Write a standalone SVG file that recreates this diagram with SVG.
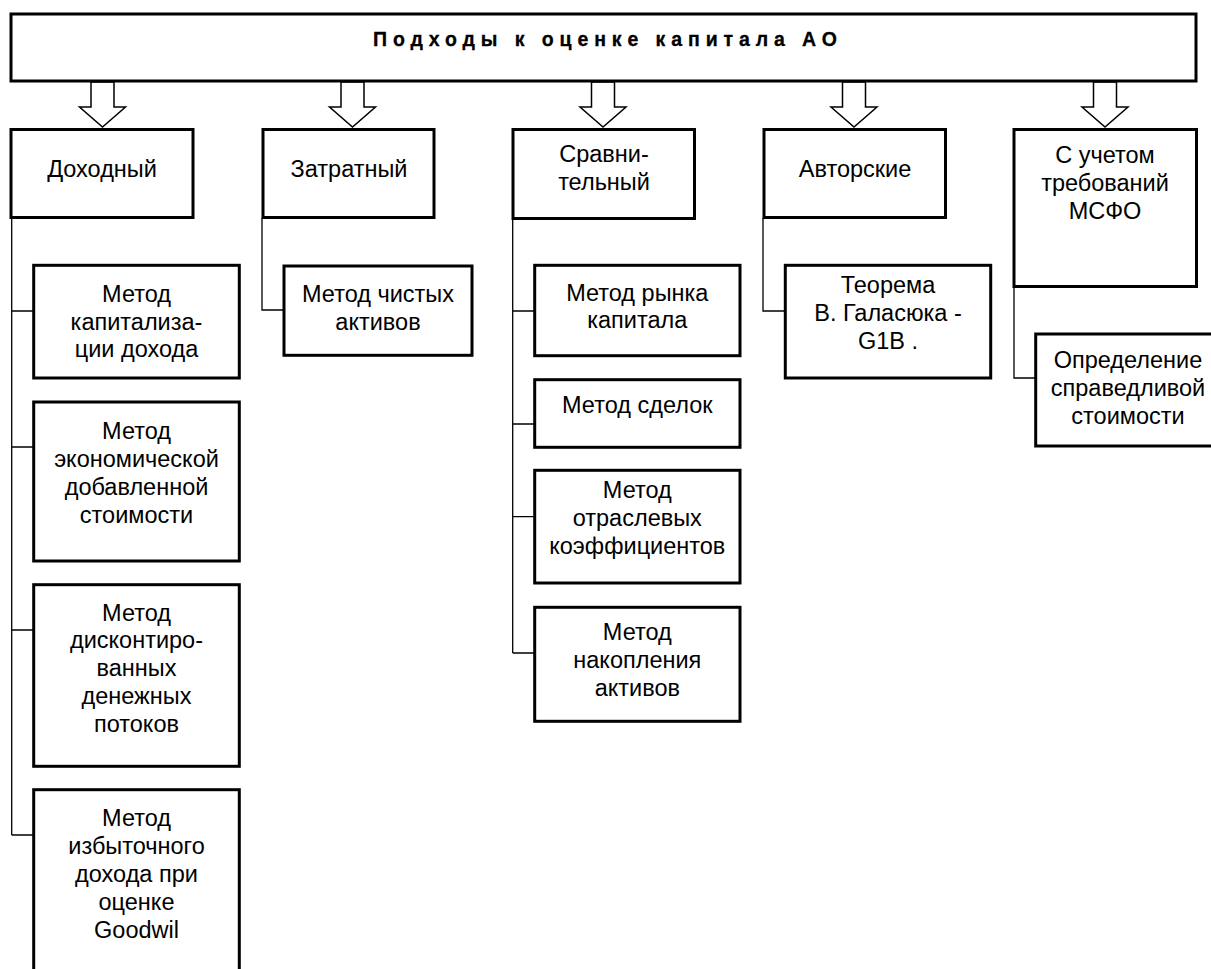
<svg xmlns="http://www.w3.org/2000/svg" width="1211" height="969" viewBox="0 0 1211 969">
<style>
.box{fill:#fff;stroke:#000;stroke-width:3}
.arr{fill:#fff;stroke:#000;stroke-width:1.5;stroke-linejoin:miter}
.ln{fill:none;stroke:#000;stroke-width:1.3}
.t{font-family:"Liberation Sans",Arial,sans-serif;font-size:23.5px;fill:#000;text-anchor:middle}
.title{font-family:"Liberation Sans",Arial,sans-serif;font-size:19.5px;font-weight:bold;fill:#000;stroke:#000;stroke-width:0.3}
</style>
<rect width="1211" height="969" fill="#fff"/>
<g id="connectors">
<polygon class="arr" points="91,82 114,82 114,107 125.5,107 102.5,127 79.5,107 91,107"/>
<polygon class="arr" points="341,82 364,82 364,107 375.5,107 352.5,127 329.5,107 341,107"/>
<polygon class="arr" points="591.5,82 614.5,82 614.5,107 626,107 603,127 580,107 591.5,107"/>
<polygon class="arr" points="842.5,82 865.5,82 865.5,107 877,107 854,127 831,107 842.5,107"/>
<polygon class="arr" points="1093.5,82 1116.5,82 1116.5,107 1128,107 1105,127 1082,107 1093.5,107"/>
<path class="ln" d="M11.7,218 V835 M11.7,311 H33 M11.7,447 H33 M11.7,630 H33 M11.7,835 H33"/>
<path class="ln" d="M262,218 V310 H283"/>
<path class="ln" d="M512.7,220 V653 M512.7,311 H534 M512.7,424 H534 M512.7,516.7 H534 M512.7,653 H534"/>
<path class="ln" d="M763,218 V311 H785"/>
<path class="ln" d="M1014,287 V378 H1035"/>
</g>
<g id="root">
<rect class="box" x="11" y="14" width="1185" height="67"/>
<text class="title" x="373" y="46" textLength="464" lengthAdjust="spacing">Подходы к оценке капитала АО</text>
</g>
<g id="dokhodny">
<rect class="box" x="11" y="129.5" width="182" height="88"/>
<text class="t" x="102" y="176.7">Доходный</text>
</g>
<g id="zatratny">
<rect class="box" x="263" y="129.5" width="171" height="88"/>
<text class="t" x="349" y="176.7">Затратный</text>
</g>
<g id="sravnitelny">
<rect class="box" x="513" y="129.5" width="181.5" height="89"/>
<text class="t" x="604" y="162.3">Сравни-</text>
<text class="t" x="604" y="190">тельный</text>
</g>
<g id="avtorskie">
<rect class="box" x="764" y="129.5" width="181.5" height="88"/>
<text class="t" x="855" y="176.7">Авторские</text>
</g>
<g id="msfo">
<rect class="box" x="1014" y="129.5" width="182.5" height="157"/>
<text class="t" x="1105" y="163.3">С учетом</text>
<text class="t" x="1105" y="191">требований</text>
<text class="t" x="1105" y="218.5">МСФО</text>
</g>
<g id="d1">
<rect class="box" x="33.7" y="265.3" width="205.6" height="112.7"/>
<text class="t" x="136.5" y="302">Метод</text>
<text class="t" x="136.5" y="329.7">капитализа-</text>
<text class="t" x="136.5" y="357">ции дохода</text>
</g>
<g id="d2">
<rect class="box" x="33.7" y="402" width="205.6" height="159"/>
<text class="t" x="136.5" y="439">Метод</text>
<text class="t" x="136.5" y="467">экономической</text>
<text class="t" x="136.5" y="495">добавленной</text>
<text class="t" x="136.5" y="523">стоимости</text>
</g>
<g id="d3">
<rect class="box" x="33.7" y="584.7" width="205.6" height="181.6"/>
<text class="t" x="136.5" y="620.7">Метод</text>
<text class="t" x="136.5" y="648.4">дисконтиро-</text>
<text class="t" x="136.5" y="676.1">ванных</text>
<text class="t" x="136.5" y="703.8">денежных</text>
<text class="t" x="136.5" y="731.5">потоков</text>
</g>
<g id="d4">
<rect class="box" x="33.7" y="789.7" width="205.6" height="200"/>
<text class="t" x="136.5" y="826">Метод</text>
<text class="t" x="136.5" y="853.7">избыточного</text>
<text class="t" x="136.5" y="881.5">дохода при</text>
<text class="t" x="136.5" y="909.5">оценке</text>
<text class="t" x="136.5" y="938">Goodwil</text>
</g>
<g id="z1">
<rect class="box" x="284" y="266" width="188" height="89.3"/>
<text class="t" x="378" y="302">Метод чистых</text>
<text class="t" x="378" y="329.7">активов</text>
</g>
<g id="s1">
<rect class="box" x="534.7" y="265.3" width="205.3" height="90.4"/>
<text class="t" x="637.3" y="300.7">Метод рынка</text>
<text class="t" x="637.3" y="328.3">капитала</text>
</g>
<g id="s2">
<rect class="box" x="534.7" y="379.7" width="205.3" height="67.6"/>
<text class="t" x="637.3" y="413.3">Метод сделок</text>
</g>
<g id="s3">
<rect class="box" x="534.7" y="470.3" width="205.3" height="112.7"/>
<text class="t" x="637.3" y="498.3">Метод</text>
<text class="t" x="637.3" y="526">отраслевых</text>
<text class="t" x="637.3" y="554">коэффициентов</text>
</g>
<g id="s4">
<rect class="box" x="534.7" y="607.3" width="205.3" height="114"/>
<text class="t" x="637.3" y="640">Метод</text>
<text class="t" x="637.3" y="668">накопления</text>
<text class="t" x="637.3" y="695.7">активов</text>
</g>
<g id="a1">
<rect class="box" x="785.3" y="265.3" width="205.4" height="112.7"/>
<text class="t" x="888" y="292.7">Теорема</text>
<text class="t" x="888" y="321">В. Галасюка -</text>
<text class="t" x="888" y="349.3">G1B .</text>
</g>
<g id="m1">
<rect class="box" x="1035.7" y="334" width="185" height="112"/>
<text class="t" x="1128" y="368.3">Определение</text>
<text class="t" x="1128" y="396">справедливой</text>
<text class="t" x="1128" y="423.5">стоимости</text>
</g>
</svg>
